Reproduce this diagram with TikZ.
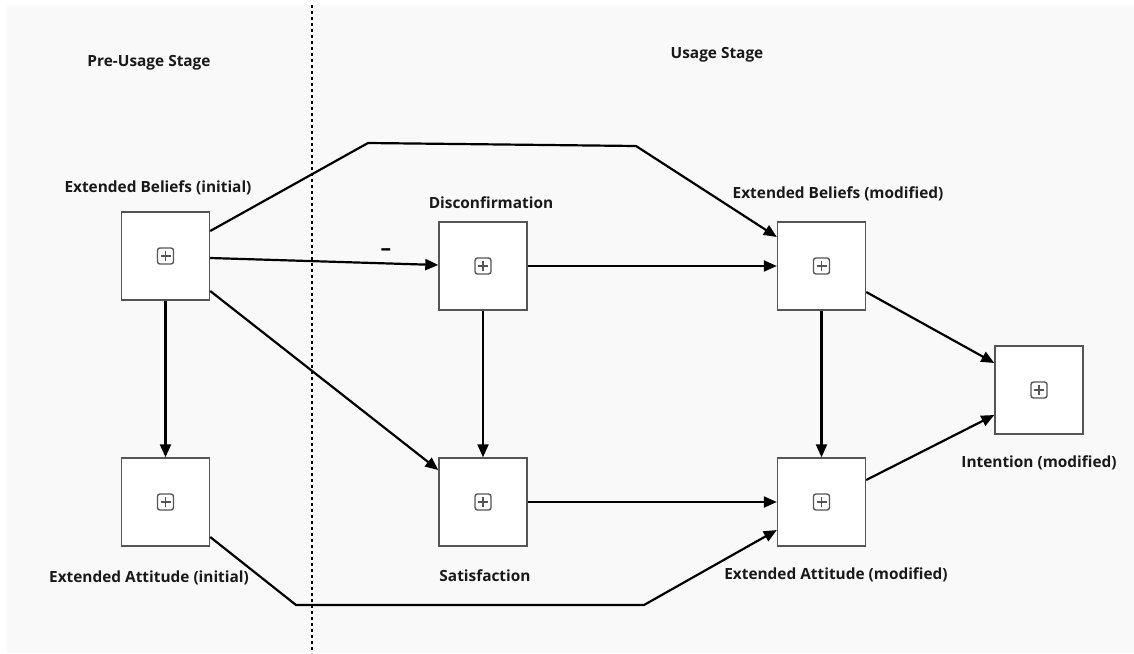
\documentclass[tikz,border=0pt]{standalone}
\usepackage{fontspec}
\setmainfont{Open Sans}[BoldFont={* Bold}]
\usetikzlibrary{arrows.meta}
\definecolor{canvas}{HTML}{F9F9F9}
\definecolor{boxline}{HTML}{555555}
\tikzset{
  construct/.style={draw=boxline, line width=1.4pt, fill=white, minimum width=88pt, minimum height=88pt, inner sep=0pt,
    path picture={
      \draw[line width=1.4pt, rounded corners=2.5pt]
        ([shift={(-8pt,-8pt)}]path picture bounding box.center) rectangle
        ([shift={(8pt,8pt)}]path picture bounding box.center);
      \draw[line width=1.3pt]
        ([shift={(-5pt,0pt)}]path picture bounding box.center) --
        ([shift={(5pt,0pt)}]path picture bounding box.center);
      \draw[line width=1.3pt]
        ([shift={(0pt,-5pt)}]path picture bounding box.center) --
        ([shift={(0pt,5pt)}]path picture bounding box.center);
    }},
  caption/.style={font=\bfseries\fontsize{15.4}{17}\selectfont, inner sep=0pt, text=black!90},
  link/.style={line width=2.2pt, -{Triangle[length=13pt,width=11pt]}},
  stageline/.style={line width=2.4pt, dash pattern=on 3pt off 3pt}
}
\begin{document}
\begin{tikzpicture}[x=1pt, y=-1pt]
  % canvas
  \fill[white] (0,0) rectangle (1134,653);
  \fill[canvas] (7,5) rectangle (1134,653);
  \useasboundingbox (0,0) rectangle (1134,653);

  % stage separator
  \coordinate (sepTop) at (312,5);
  \coordinate (sepBot) at (312,653);
  \draw[stageline] (sepTop) -- (sepBot);

  % stage titles
  \node[caption] (preStage) at (149,63) {Pre-Usage Stage};
  \node[caption] (useStage) at (717,55) {Usage Stage};

  % constructs
  \node[construct] (ebi) at (165.5,256) {};
  \node[construct] (eai) at (165.5,502) {};
  \node[construct] (dis) at (483,266) {};
  \node[construct] (sat) at (483,502) {};
  \node[construct] (ebm) at (821.5,266) {};
  \node[construct] (eam) at (821.5,502) {};
  \node[construct] (int) at (1039,390) {};

  % construct captions
  \node[caption] (ebiLbl) at (158,188) {Extended Beliefs (initial)};
  \node[caption] (eaiLbl) at (149,578) {Extended Attitude (initial)};
  \node[caption] (disLbl) at (491,203) {Disconfirmation};
  \node[caption] (satLbl) at (485,576) {Satisfaction};
  \node[caption] (ebmLbl) at (838,194) {Extended Beliefs (modified)};
  \node[caption] (eamLbl) at (836,575) {Extended Attitude (modified)};
  \node[caption] (intLbl) at (1039,463) {Intention (modified)};

  % bend points of the long paths
  \coordinate (topA) at (368,143);
  \coordinate (topB) at (636,146);
  \coordinate (botA) at (296,605);
  \coordinate (botB) at (644,605);

  % paths
  \draw[link] ([yshift=25pt]ebi.east) -- (topA) -- (topB) -- ([yshift=29pt]ebm.west);
  \draw[link] ([yshift=-2pt]ebi.east) -- node[pos=0.77, above=3pt, font=\bfseries\fontsize{21}{21}\selectfont] (minus) {\textendash} ([yshift=1pt]dis.west);
  \draw[link] ([yshift=-35pt]ebi.east) -- ([yshift=32pt]sat.west);
  \draw[link] (ebi.south) -- (eai.north);
  \draw[link] (dis.east) -- (ebm.west);
  \draw[link] (dis.south) -- (sat.north);
  \draw[link] (sat.east) -- (eam.west);
  \draw[link] ([yshift=-35pt]eai.east) -- (botA) -- (botB) -- ([yshift=-28pt]eam.west);
  \draw[link] (ebm.south) -- (eam.north);
  \draw[link] ([yshift=-26pt]ebm.east) -- ([yshift=27pt]int.west);
  \draw[link] ([yshift=22pt]eam.east) -- ([yshift=-25pt]int.west);
\end{tikzpicture}
\end{document}
